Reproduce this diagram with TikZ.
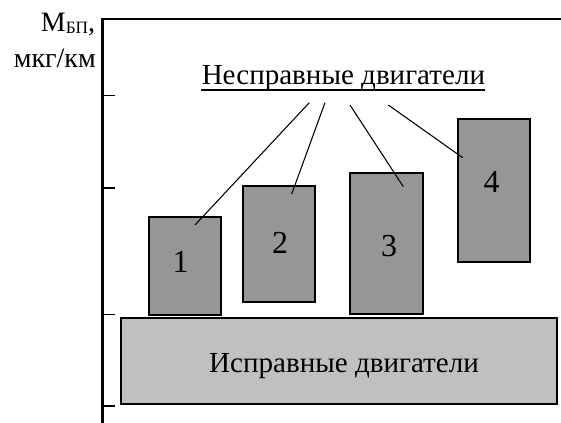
\documentclass[tikz,border=0pt]{standalone}
\usepackage{fontspec}
\setmainfont{Liberation Serif}
\definecolor{darkfill}{RGB}{150,150,150}
\definecolor{lightfill}{RGB}{192,192,192}
\begin{document}
\begin{tikzpicture}[x=0.75pt,y=-0.75pt,
  axisline/.style={line width=1.9pt},
  tickline/.style={line width=1.2pt},
  badbox/.style={draw, line width=1.5pt, fill=darkfill, inner sep=0pt, rectangle},
  goodbox/.style={draw, line width=1.5pt, fill=lightfill, inner sep=0pt, rectangle},
  txt/.style={font=\fontsize{21.8}{26}\selectfont, inner sep=0pt},
  labtxt/.style={font=\fontsize{21}{25}\selectfont, inner sep=0pt},
  numtxt/.style={font=\fontsize{24}{28}\selectfont, inner sep=0pt},
  pointer/.style={line width=0.8pt}]
\useasboundingbox (0,0) rectangle (561,423);
% axes
\coordinate (ax0) at (102.5,423);
\coordinate (ax1) at (102.5,19);
\coordinate (ax2) at (561,19);
\draw[axisline] (ax0) -- (ax1) -- (ax2);
\foreach \yy/\nm in {95.5/t1,188.3/t2,314.5/t3,406/t4}{
  \coordinate (\nm a) at (102.5,\yy);
  \coordinate (\nm b) at (114.5,\yy);
  \draw[tickline] (\nm a) -- (\nm b);
}
% axis label
\node[labtxt, anchor=base east] (ylab1) at (95.5,31.7) {М\raisebox{-1.2pt}{\fontsize{13}{15}\selectfont БП},};
\node[labtxt, anchor=base east] (ylab2) at (96,67.7) {мкг/км};
% boxes
\node[goodbox, minimum width=327.2pt, minimum height=63.9pt] (big) at (339.2,361) {};
\node[badbox, minimum width=54pt, minimum height=73.5pt] (b1) at (185.3,265.7) {};
\node[badbox, minimum width=53.8pt, minimum height=87pt] (b2) at (279.2,244.3) {};
\node[badbox, minimum width=54.3pt, minimum height=106pt] (b3) at (386.5,243.7) {};
\node[badbox, minimum width=54pt, minimum height=106.8pt] (b4) at (493.7,190.5) {};
\node[numtxt] (n1) at (180.7,261.7) {1};
\node[numtxt] (n2) at (280,243) {2};
\node[numtxt] (n3) at (389,246) {3};
\node[numtxt] (n4) at (491.7,181.7) {4};
\node[txt, anchor=base] (goodtxt) at (344,372.3) {Исправные двигатели};
% title
\node[txt, anchor=base] (title) at (343.4,84.3) {Несправные двигатели};
\draw[line width=1.1pt] ([yshift=-4.3pt]title.base west) -- ([yshift=-4.3pt]title.base east);
% pointers
\coordinate (s1) at (309.3,102.7);
\coordinate (s2) at (325,102.7);
\coordinate (s3) at (350,105);
\coordinate (s4) at (388.3,105);
\coordinate (e1) at (195,225);
\coordinate (e2) at (291.7,194);
\coordinate (e3) at (403.3,186.7);
\coordinate (e4) at (462.7,157.7);
\draw[pointer] (s1) -- (e1);
\draw[pointer] (s2) -- (e2);
\draw[pointer] (s3) -- (e3);
\draw[pointer] (s4) -- (e4);
\end{tikzpicture}
\end{document}
